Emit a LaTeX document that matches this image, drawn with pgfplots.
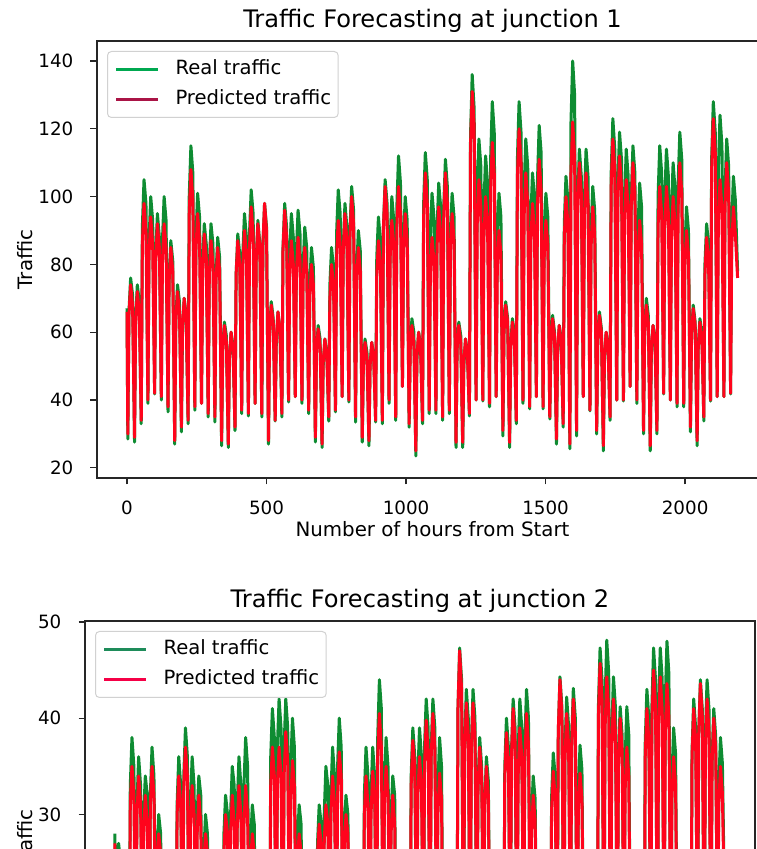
\documentclass[border=0pt]{standalone}
\usepackage{fontspec}
\setmainfont{DejaVu Sans}
\usepackage{pgfplots}
\usepackage{pgfplotstable}
\pgfplotsset{compat=1.18}
\definecolor{realg}{RGB}{14,140,50}
\definecolor{predr}{RGB}{255,4,28}
\definecolor{leggreen}{RGB}{0,168,80}
\definecolor{legcrim}{RGB}{170,20,70}
\definecolor{leggreen2}{RGB}{30,140,90}
\definecolor{legred2}{RGB}{245,0,70}

% Junction 1: x = hours from start, r = real traffic, p = predicted traffic
\pgfplotstableread[row sep=\\]{
x r p\\
0 67 66\\
3 28.5 30\\ 7 66 65\\ 13 76 74\\ 20 71 68\\
27 27.6 29\\ 31 64 63\\ 37 74 72\\ 44 69 66\\
51 33 34\\ 55 91 86\\ 61 105 98\\ 68 98 90\\
75 39 40\\ 79 87 83\\ 85 100 94\\ 92 93 86\\
99 41.8 42\\ 103 83 81\\ 109 95 92\\ 116 88 85\\
123 40 41\\ 127 87 81\\ 133 100 92\\ 140 93 85\\
147 36.5 38\\ 151 76 75\\ 157 87 85\\ 164 81 78\\
171 27 28\\ 175 64 63\\ 181 74 72\\ 188 69 66\\
195 30.6 32\\ 199 61 62\\ 205 70 70\\ 212 65 64\\
219 33 34\\ 223 100 95\\ 229 115 108\\ 236 107 99\\
243 37 38\\ 247 88 84\\ 253 101 95\\ 260 94 87\\
267 39 39\\ 271 80 78\\ 277 92 89\\ 284 86 82\\
291 35 36\\ 295 80 77\\ 301 92 87\\ 308 86 80\\
315 33.5 35\\ 319 77 75\\ 325 88 85\\ 332 82 78\\
339 26.5 28\\ 343 55 55\\ 349 63 62\\ 356 59 57\\
363 26 27\\ 367 52 53\\ 373 60 60\\ 380 56 55\\
387 31 32\\ 391 77 77\\ 397 89 87\\ 404 83 80\\
411 36 37\\ 415 83 79\\ 421 95 90\\ 428 88 83\\
435 35.3 36\\ 439 89 85\\ 445 102 97\\ 452 95 89\\
459 39 39\\ 463 81 81\\ 469 93 92\\ 476 86 85\\
483 35 36\\ 487 85 86\\ 493 98 98\\ 500 91 90\\
507 27 28\\ 511 60 60\\ 517 69 68\\ 524 64 63\\
531 33.8 34\\ 535 57 58\\ 541 66 66\\ 548 61 61\\
555 35 36\\ 559 85 84\\ 565 98 96\\ 572 91 88\\
579 39.4 40\\ 583 83 77\\ 589 95 87\\ 596 88 80\\
603 41 41\\ 607 84 77\\ 613 96 88\\ 620 89 81\\
627 39 40\\ 631 79 75\\ 637 91 85\\ 644 85 78\\
651 36 37\\ 655 74 70\\ 661 85 80\\ 668 79 74\\
675 27.6 29\\ 679 54 54\\ 685 62 61\\ 692 58 56\\
699 26 27\\ 703 50 51\\ 709 58 58\\ 716 54 53\\
723 33.8 35\\ 727 74 70\\ 733 85 80\\ 740 79 74\\
747 36.5 37\\ 751 89 82\\ 757 102 93\\ 764 95 86\\
771 41 41\\ 775 85 84\\ 781 98 95\\ 788 91 87\\
795 39.4 40\\ 799 90 88\\ 805 103 100\\ 812 96 92\\
819 33.5 35\\ 823 78 75\\ 829 90 85\\ 836 84 78\\
843 27.6 29\\ 847 50 50\\ 853 58 57\\ 860 54 52\\
867 26.5 28\\ 871 50 50\\ 877 57 57\\ 884 53 52\\
891 33.5 34\\ 895 82 77\\ 901 94 87\\ 908 87 80\\
915 33 34\\ 919 91 91\\ 925 105 103\\ 932 98 95\\
939 39 40\\ 943 87 82\\ 949 100 93\\ 956 93 86\\
963 34 35\\ 967 97 91\\ 973 112 103\\ 980 104 95\\
987 44 44\\ 991 87 84\\ 997 100 95\\ 1004 93 87\\
1011 32 33\\ 1015 56 55\\ 1021 64 62\\ 1028 60 57\\
1035 23.5 25\\ 1039 52 53\\ 1045 60 60\\ 1052 56 55\\
1059 33 34\\ 1063 98 94\\ 1069 113 107\\ 1076 105 98\\
1083 36 37\\ 1087 88 77\\ 1093 101 88\\ 1100 94 81\\
1107 36 37\\ 1111 90 85\\ 1117 104 97\\ 1124 97 89\\
1131 34 35\\ 1135 97 94\\ 1141 111 107\\ 1148 103 98\\
1155 36 37\\ 1159 88 84\\ 1165 101 95\\ 1172 94 87\\
1179 26 27.5\\ 1183 55 55\\ 1189 63 62\\ 1196 59 57\\
1203 26 27.5\\ 1207 50 51\\ 1213 58 58\\ 1220 54 53\\
1227 35.3 36\\ 1231 118 115\\ 1237 136 131\\ 1244 126 121\\
1251 40 40\\ 1255 102 92\\ 1261 117 105\\ 1268 109 97\\
1275 39.7 40\\ 1279 97 88\\ 1285 112 100\\ 1292 104 92\\
1299 38 39\\ 1303 111 102\\ 1309 128 116\\ 1316 119 107\\
1323 41 41\\ 1327 88 79\\ 1333 101 90\\ 1340 94 83\\
1347 29.4 31\\ 1351 60 60\\ 1357 69 68\\ 1364 64 63\\
1371 26 27.5\\ 1375 56 55\\ 1381 64 63\\ 1388 60 58\\
1395 33 34\\ 1399 111 106\\ 1405 128 120\\ 1412 119 110\\
1419 39 40\\ 1423 102 94\\ 1429 117 107\\ 1436 109 98\\
1443 37.4 38\\ 1447 93 86\\ 1453 107 98\\ 1460 100 90\\
1467 41 41\\ 1471 105 98\\ 1477 121 111\\ 1484 113 102\\
1491 37.4 38\\ 1495 88 82\\ 1501 101 93\\ 1508 94 86\\
1515 34.4 35\\ 1519 57 56\\ 1525 65 64\\ 1532 60 59\\
1539 27 28.5\\ 1543 54 55\\ 1549 62 62\\ 1556 58 57\\
1563 32 33\\ 1567 92 88\\ 1573 106 100\\ 1580 99 92\\
1587 25.6 27\\ 1591 122 107\\ 1597 140 122\\ 1604 130 112\\
1611 29.4 31\\ 1615 99 97\\ 1621 114 110\\ 1628 106 101\\
1635 41 41\\ 1639 99 94\\ 1645 114 107\\ 1652 106 98\\
1659 36.8 37\\ 1663 90 85\\ 1669 103 97\\ 1676 96 89\\
1683 30 31\\ 1687 57 57\\ 1693 66 65\\ 1700 61 60\\
1707 25 26.5\\ 1711 52 53\\ 1717 60 60\\ 1724 56 55\\
1731 34 35\\ 1735 107 103\\ 1741 123 117\\ 1748 114 108\\
1755 40 40\\ 1759 104 99\\ 1765 119 112\\ 1772 111 103\\
1779 39.7 40\\ 1783 99 92\\ 1789 114 105\\ 1796 106 97\\
1803 44 44\\ 1807 100 97\\ 1813 115 110\\ 1820 107 101\\
1827 39 40\\ 1831 90 82\\ 1837 104 93\\ 1844 97 86\\
1851 30 31\\ 1855 61 60\\ 1861 70 68\\ 1868 65 63\\
1875 25 26.5\\ 1879 54 55\\ 1885 62 62\\ 1892 58 57\\
1899 30 31\\ 1903 100 91\\ 1909 115 103\\ 1916 107 95\\
1923 41.8 42\\ 1927 99 91\\ 1933 114 103\\ 1940 106 95\\
1947 40 40\\ 1951 96 88\\ 1957 110 100\\ 1964 102 92\\
1971 38 39\\ 1975 104 97\\ 1981 119 110\\ 1988 111 101\\
1995 38 39\\ 1999 84 79\\ 2005 97 90\\ 2012 90 83\\
2019 30.6 32\\ 2023 59 59\\ 2029 68 67\\ 2036 63 62\\
2043 26.5 28\\ 2047 56 55\\ 2053 64 63\\ 2060 60 58\\
2067 33.8 35\\ 2071 80 77\\ 2077 92 88\\ 2084 86 81\\
2091 39.7 40\\ 2095 111 108\\ 2101 128 123\\ 2108 119 113\\
2115 41 41\\ 2119 108 92\\ 2125 124 105\\ 2132 115 97\\
2139 41 41\\ 2143 102 97\\ 2149 117 110\\ 2156 109 101\\
2163 41.8 42\\ 2167 92 85\\ 2173 106 97\\ 2180 99 89\\
2188 78 76\\
}\jone

% Junction 2
\pgfplotstableread[row sep=\\]{
x r p\\
0 28 27\\
3 9 10\\ 7 23 23\\ 13 27 26\\ 20 25 24\\
27 8 9\\ 31 21 20\\ 37 24 23\\ 44 22 21\\
51 10 11\\ 55 33 31\\ 61 38 35\\ 68 35 32\\
75 13 14\\ 79 31 30\\ 85 36 34\\ 92 33 31\\
99 14 15\\ 103 30 28\\ 109 34 32\\ 116 32 29\\
123 13 14\\ 127 32 31\\ 133 37 35\\ 140 34 32\\
147 14 15\\ 151 26 25\\ 157 30 28\\ 164 28 26\\
171 9 10\\ 175 22 21\\ 181 25 24\\ 188 23 22\\
195 8 9\\ 199 20 19\\ 205 23 22\\ 212 21 20\\
219 10 11\\ 223 31 30\\ 229 36 34\\ 236 33 31\\
243 14 15\\ 247 34 33\\ 253 39 37\\ 260 36 34\\
267 13 14\\ 271 31 29\\ 277 36 33\\ 284 33 30\\
291 15 15\\ 295 30 28\\ 301 34 32\\ 308 32 29\\
315 14 15\\ 319 26 25\\ 325 30 28\\ 332 28 26\\
339 9 10\\ 343 21 20\\ 349 24 23\\ 356 22 21\\
363 8 9\\ 367 19 18\\ 373 22 21\\ 380 20 19\\
387 11 12\\ 391 28 26\\ 397 32 30\\ 404 30 28\\
411 13 14\\ 415 30 28\\ 421 35 32\\ 428 33 29\\
435 14 15\\ 439 31 29\\ 445 36 33\\ 452 33 30\\
459 13 14\\ 463 33 29\\ 469 38 33\\ 476 35 30\\
483 14 15\\ 487 27 25\\ 493 31 28\\ 500 29 26\\
507 9 10\\ 511 22 21\\ 517 25 24\\ 524 23 22\\
531 8 9\\ 535 20 19\\ 541 23 22\\ 548 21 20\\
555 10 11\\ 559 36 33\\ 565 41 37\\ 572 38 34\\
579 14 15\\ 583 37 33\\ 589 42 37\\ 596 39 34\\
603 13 14\\ 607 37 34\\ 613 42 38.6\\ 620 39 35.5\\
627 15 15\\ 631 35 31\\ 637 40 35.6\\ 644 37 33\\
651 14 15\\ 655 27 25\\ 661 31 28\\ 668 29 26\\
675 9 10\\ 679 21 20\\ 685 24 23\\ 692 22 21\\
699 8 9\\ 703 19 19\\ 709 22 22\\ 716 20 20\\
723 10 11\\ 727 27 26\\ 733 31 29\\ 740 29 27\\
747 14 15\\ 751 30 27\\ 757 35 31\\ 764 33 29\\
771 13 14\\ 775 32 30\\ 781 37 34\\ 788 34 31\\
795 15 15\\ 799 35 32\\ 805 40 36.5\\ 812 37 34\\
819 14 15\\ 823 28 26\\ 829 32 30\\ 836 30 28\\
843 9 10\\ 847 22 21\\ 853 25 24\\ 860 23 22\\
867 8 9\\ 871 20 19\\ 877 23 22\\ 884 21 20\\
891 10 11\\ 895 32 30\\ 901 37 34\\ 908 34 31\\
915 14 15\\ 919 32 30\\ 925 37 34.5\\ 932 34 32\\
939 13 14\\ 943 38 36\\ 949 44 40.5\\ 956 41 37\\
963 15 15\\ 967 33 31\\ 973 38 35\\ 980 35 32\\
987 14 15\\ 991 30 28\\ 997 34 32\\ 1004 32 29\\
1011 9 10\\ 1015 21 20\\ 1021 24 23\\ 1028 22 21\\
1035 8 9\\ 1039 20 19\\ 1045 23 22\\ 1052 21 20\\
1059 10 11\\ 1063 34 33\\ 1069 39 37.7\\ 1076 36 35\\
1083 14 15\\ 1087 34 32\\ 1093 39 36\\ 1100 36 33\\
1107 13 14\\ 1111 37 35\\ 1117 42 39.8\\ 1124 39 36.6\\
1131 15 15\\ 1135 37 36\\ 1141 42 40.5\\ 1148 39 37\\
1155 14 15\\ 1159 33 30\\ 1165 38 34.3\\ 1172 35 31.6\\
1179 9 10\\ 1183 22 21\\ 1189 25 24\\ 1196 23 22\\
1203 8 9\\ 1207 21 20\\ 1213 24 23\\ 1220 22 21\\
1227 10 11\\ 1231 41 41\\ 1237 47.3 47\\ 1244 44 43\\
1251 14 15\\ 1255 37 36.6\\ 1261 43 41.6\\ 1268 40 38.3\\
1275 13 14\\ 1279 37 36.6\\ 1285 43 41.6\\ 1292 40 38.3\\
1299 15 15\\ 1303 33 32.6\\ 1309 38 37\\ 1316 35 34\\
1323 14 15\\ 1327 31 31\\ 1333 36 35\\ 1340 33.5 32\\
1347 9 10\\ 1351 22 22\\ 1357 25 25\\ 1364 23 23\\
1371 8 9\\ 1375 20 20\\ 1381 23 23\\ 1388 21 21\\
1395 10 11\\ 1399 35 34\\ 1405 40 38.5\\ 1412 37 35.4\\
1419 14 15\\ 1423 36.5 36\\ 1429 42 41\\ 1436 39 37.7\\
1443 13 14\\ 1447 36.5 34\\ 1453 42 39\\ 1460 39 36\\
1467 15 15\\ 1471 37.5 35.6\\ 1477 43 40.5\\ 1484 40 37.3\\
1491 14 15\\ 1495 29.6 28\\ 1501 34 32\\ 1508 31.6 29.4\\
1515 9 10\\ 1519 22 21\\ 1525 25 24\\ 1532 23 22\\
1539 8 9\\ 1543 21 20\\ 1549 24 23\\ 1556 22 21\\
1563 10 11\\ 1567 31.7 30.4\\ 1573 36.4 34.5\\ 1580 33.9 31.7\\
1587 14 15\\ 1591 38.5 38.7\\ 1597 44.3 44\\ 1604 41.2 40.5\\
1611 13 14\\ 1615 36.7 35.6\\ 1621 42.2 40.5\\ 1628 39.2 37.3\\
1635 15 15\\ 1639 37.5 37\\ 1645 43.1 42\\ 1652 40.1 38.6\\
1659 14 15\\ 1663 32.4 30.2\\ 1669 37.2 34.3\\ 1676 34.6 31.6\\
1683 9 10\\ 1687 22 21\\ 1693 25 24\\ 1700 23 22\\
1707 8 9\\ 1711 21 20\\ 1717 24 23\\ 1724 22 21\\
1731 10 11\\ 1735 41.2 40.2\\ 1741 47.3 45.7\\ 1748 44 42\\
1755 14 15\\ 1759 41.8 39\\ 1765 48.1 44.3\\ 1772 44.7 40.8\\
1779 13 14\\ 1783 38.5 37\\ 1789 44.3 42\\ 1796 41.2 38.6\\
1803 15 15\\ 1807 35.8 35.2\\ 1813 41.2 40\\ 1820 38.3 36.8\\
1827 14 15\\ 1831 35.8 32.6\\ 1837 41.2 37\\ 1844 38.3 34\\
1851 9 10\\ 1855 22.6 22\\ 1861 26 25\\ 1868 24 23\\
1875 8 9\\ 1879 21 20\\ 1885 24 23\\ 1892 22 21\\
1899 10 11\\ 1903 37.4 36\\ 1909 43 41\\ 1916 40 37.7\\
1923 14 15\\ 1927 41.2 39.6\\ 1933 47.3 45\\ 1940 44 41.4\\
1947 13 14\\ 1951 41.2 39\\ 1957 47.3 44.3\\ 1964 44 40.8\\
1971 15 15\\ 1975 41.8 38.4\\ 1981 48 43.6\\ 1988 44.6 40.1\\
1995 14 15\\ 1999 33.9 31.7\\ 2005 39 36\\ 2012 36.3 33.1\\
2019 9 10\\ 2023 22 21\\ 2029 25 24\\ 2036 23 22\\
2043 8 9\\ 2047 21 20\\ 2053 24 23\\ 2060 22 21\\
2067 10 11\\ 2071 36.5 36\\ 2077 42 41\\ 2084 39 37.7\\
2091 14 15\\ 2095 38.3 38.4\\ 2101 44 43.6\\ 2108 40.9 40.1\\
2115 13 14\\ 2119 38.3 37\\ 2125 44 42\\ 2132 40.9 38.6\\
2139 15 15\\ 2143 35.7 35.2\\ 2149 41 40\\ 2156 38.1 36.8\\
2163 14 15\\ 2167 33 30.8\\ 2173 38 35\\ 2180 35.3 32.2\\
2188 20 19\\
}\jtwo

\pgfplotsset{
  trafficaxis/.style={
    scale only axis, anchor=south west, height=437pt,
    xmin=-107.5, xmax=2297,
    tick align=outside, tick pos=left,
    major tick length=6.5pt,
    every tick/.style={black!85, line width=1.3pt},
    axis line style={black!85, line width=1.3pt},
    tick label style={font=\fontsize{18.3}{22}\selectfont},
    /pgf/number format/assume math mode=true,
    /pgf/number format/1000 sep={},
    scaled ticks=false,
    xtick={0,500,1000,1500,2000},
    xticklabel style={anchor=base, yshift=-30pt},
    yticklabel style={anchor=east, inner sep=0pt, xshift=-17pt},
    legend style={
      at={(0,1)}, anchor=north west, xshift=10pt, yshift=-10pt,
      draw=black!18, line width=1pt, rounded corners=4pt,
      fill=white, fill opacity=0.8, text opacity=1,
      inner xsep=7pt, inner ysep=9pt,
      row sep=12pt, column sep=16pt,
      nodes={inner sep=0pt, text height=14pt, text depth=4pt, anchor=west},
      font=\fontsize{19.6}{23}\selectfont,
    },
    legend cell align=left,
    legend image code/.code={\draw[##1, line width=3pt] (0pt,0pt) -- (42pt,0pt);},
  },
  trafficline/.style={line width=3pt, line join=round, no markers, forget plot},
}

\begin{document}
\begin{tikzpicture}
\path[use as bounding box] (0pt,0pt) rectangle (757pt,849pt);
\clip (0pt,0pt) rectangle (757pt,849pt);

\begin{axis}[trafficaxis, name=jone, at={(97pt,371pt)}, width=671pt,
  ymin=17, ymax=145.9, ytick={20,40,60,80,100,120,140}]
\addplot[trafficline, realg] table[x=x, y=r]{\jone};
\addplot[trafficline, predr] table[x=x, y=p]{\jone};
\addlegendimage{leggreen, line width=3pt}
\addlegendentry{Real traffic}
\addlegendimage{legcrim, line width=3pt}
\addlegendentry{Predicted traffic}
\end{axis}
\node[anchor=base, font=\fontsize{24.1}{28}\selectfont] at ([yshift=13pt]jone.north) {Traffic Forecasting at junction 1};
\node[anchor=base, font=\fontsize{19.8}{24}\selectfont] at ([yshift=-59pt]jone.south) {Number of hours from Start};
\node[anchor=base, rotate=90, font=\fontsize{19.8}{24}\selectfont] at ([xshift=-65pt]jone.west) {Traffic};

\begin{axis}[trafficaxis, name=jtwo, at={(85pt,-209pt)}, width=670pt,
  ymin=4.7, ymax=50.1, ytick={30,40,50}, xticklabels={}]
\addplot[trafficline, realg] table[x=x, y=r]{\jtwo};
\addplot[trafficline, predr] table[x=x, y=p]{\jtwo};
\addlegendimage{leggreen2, line width=3pt}
\addlegendentry{Real traffic}
\addlegendimage{legred2, line width=3pt}
\addlegendentry{Predicted traffic}
\end{axis}
\node[anchor=base, font=\fontsize{24.1}{28}\selectfont] at ([yshift=13pt]jtwo.north) {Traffic Forecasting at junction 2};
\node[anchor=base, rotate=90, font=\fontsize{19.8}{24}\selectfont] at ([xshift=-53pt]jtwo.west) {Traffic};
\end{tikzpicture}
\end{document}
